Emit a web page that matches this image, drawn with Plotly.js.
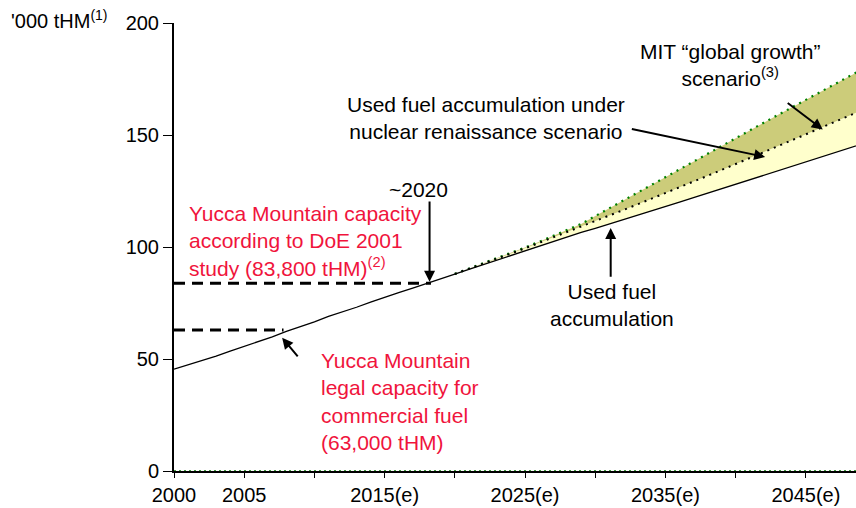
<!DOCTYPE html>
<html>
<head>
<meta charset="utf-8">
<script src="https://cdn.plot.ly/plotly-3.0.1.min.js"></script>
<style>
html,body{margin:0;padding:0;background:#fff;}
#chart{width:856px;height:508px;}
</style>
</head>
<body>
<div id="chart"></div>
<script>
// ---- Data ('000 tHM) ----
const years = [2000,2001,2002,2003,2004,2005,2006,2007,2008,2009,2010,2011,2012,2013,2014,2015,2016,2017,2018,2019,2020,
  2021,2022,2023,2024,2025,2026,2027,2028,2029,2030,2031,2032,2033,2034,2035,2036,2037,2038,2039,2040,
  2041,2042,2043,2044,2045,2046,2047,2048,2049,2050];
const usedFuel = [45.5,47.4,49.3,51.3,53.5,55.6,57.6,59.9,62.3,64.4,66.6,69.0,71.0,73.1,75.4,77.6,79.6,81.6,83.6,85.8,87.9,
  90.0,92.1,94.2,96.3,98.3,100.4,102.5,104.5,106.5,108.3,110.2,112.1,114.0,116.0,118.0,120.0,122.0,124.0,126.0,128.0,
  130.0,132.0,134.0,136.0,138.0,140.0,142.0,144.0,146.0,148.0];
const scenarioYears = [2020,2021,2022,2023,2024,2025,2026,2027,2028,2029,2030,2031,2032,2033,2034,2035,2036,2037,2038,2039,2040,
  2041,2042,2043,2044,2045,2046,2047,2048,2049,2050];
const renaissance = [88.0,90.2,92.5,94.8,97.1,99.4,101.8,104.2,106.6,109.0,111.5,114.0,116.5,119.0,121.5,124.0,126.6,129.2,131.8,134.4,137.0,
  139.6,142.3,145.0,147.6,150.3,153.0,155.7,158.4,161.1,163.8];
const mitGrowth = [88.0,90.3,92.7,95.2,97.5,99.8,102.3,105.0,107.6,110.3,113.8,117.3,120.8,124.3,127.8,131.3,134.8,138.3,141.8,145.3,148.7,
  152.1,155.5,158.9,162.3,165.7,169.1,172.5,175.9,179.3,182.7];
const capacityValues = [63.0, 83.8];          // Yucca Mountain capacities
const capacityReachedYears = [2007.8, 2018.3]; // year the used-fuel line reaches each capacity
const xTickVals = [2000,2005,2010,2015,2020,2025,2030,2035,2040,2045];
const xTickText = ['2000','2005','','2015(e)','','2025(e)','','2035(e)','','2045(e)'];
const yTickVals = [0,50,100,150,200];

const startIdx = years.indexOf(scenarioYears[0]);
const usedFuelFuture = usedFuel.slice(startIdx);

const FONT = 'Liberation Sans, Arial, sans-serif';
const RED = '#F0143C';
const FS = 21;

const traces = [
  // fill bases
  {x: scenarioYears, y: usedFuelFuture, mode:'lines', line:{width:0, color:'rgba(0,0,0,0)'}, hoverinfo:'skip', showlegend:false},
  {x: scenarioYears, y: renaissance, mode:'lines', fill:'tonexty', fillcolor:'#FFFFCC', line:{width:0, color:'rgba(0,0,0,0)'}, hoverinfo:'skip', showlegend:false},
  {x: scenarioYears, y: mitGrowth, mode:'lines', fill:'tonexty', fillcolor:'#CCCC7A', line:{width:0, color:'rgba(0,0,0,0)'}, hoverinfo:'skip', showlegend:false},
  // capacity dashed lines
  {x: [years[0], capacityReachedYears[0]], y: [capacityValues[0], capacityValues[0]], mode:'lines', line:{color:'#000', width:3, dash:'11px,7px'}, showlegend:false},
  {x: [years[0], capacityReachedYears[1]], y: [capacityValues[1], capacityValues[1]], mode:'lines', line:{color:'#000', width:3, dash:'11px,7px'}, showlegend:false},
  // lines
  {x: scenarioYears, y: mitGrowth, mode:'lines', line:{color:'#008000', width:2.2, dash:'2px,5px'}, showlegend:false},
  {x: scenarioYears, y: renaissance, mode:'lines', line:{color:'#000', width:2, dash:'2px,5px'}, showlegend:false},
  {x: years, y: usedFuel, mode:'lines', line:{color:'#000', width:1.3}, showlegend:false}
];

function arrow(x, y, ax, ay){
  return {x:x, y:y, xref:'x', yref:'y', ax:ax, ay:ay, axref:'x', ayref:'y', text:'', showarrow:true,
          arrowhead:2, arrowsize:1.1, arrowwidth:2, arrowcolor:'#000'};
}
function label(x, y, text, opts){
  return Object.assign({x:x, y:y, xref:'paper', yref:'paper', text:text, showarrow:false,
    font:{family:FONT, size:FS, color:'#000'}, xanchor:'center', yanchor:'middle', align:'center'}, opts||{});
}
const L=174, R=0, T=23, B=37, W=856, H=508;
const px = v => (v - L)/(W - L - R);
const py = v => (H - B - v)/(H - T - B);

const annotations = [
  label(px(9), py(19), "'000 tHM<sup>(1)</sup>", {xanchor:'left', font:{family:FONT, size:20, color:'#000'}}),
  label(px(486), py(117.5), 'Used fuel accumulation under<br>nuclear renaissance scenario'),
  label(px(730), py(64.5), 'MIT “global growth”<br>scenario<sup>(3)</sup>'),
  label(px(418), py(190), '~2020'),
  label(px(187), py(240.5), 'Yucca Mountain capacity<br>according to DoE 2001<br>study (83,800 tHM)<sup>(2)</sup>', {xanchor:'left', align:'left', font:{family:FONT, size:FS, color:RED}}),
  label(px(319), py(401.5), 'Yucca Mountain<br>legal capacity for<br>commercial fuel<br>(63,000 tHM)', {xanchor:'left', align:'left', font:{family:FONT, size:FS, color:RED}}),
  label(px(612), py(304.5), 'Used fuel<br>accumulation'),
  arrow(2018.2, 84.5, 2018.2, 121),
  arrow(2007.7, 59.5, 2008.9, 50.5),
  arrow(2031.1, 108.5, 2031.1, 86),
  arrow(2042.1, 140.2, 2032.5, 152.8),
  arrow(2046.2, 152.5, 2043.6, 164.8)
];

const layout = {
  width: W, height: H,
  margin: {l:L, r:R, t:T, b:B, pad:0},
  paper_bgcolor:'#fff', plot_bgcolor:'#fff',
  showlegend:false,
  font:{family:FONT, color:'#000'},
  xaxis:{
    range:[2000, 2048.57], showgrid:false, zeroline:false,
    showline:true, linecolor:'#000', linewidth:1.5,
    tickmode:'array', tickvals:xTickVals, ticktext:xTickText,
    ticks:'outside', ticklen:5, tickcolor:'#000', tickwidth:1,
    tickfont:{family:FONT, size:20, color:'#000'}
  },
  yaxis:{
    range:[0, 200], showgrid:false, zeroline:false,
    showline:true, linecolor:'#000', linewidth:2,
    tickmode:'array', tickvals:yTickVals,
    ticks:'outside', ticklen:9, tickcolor:'#000', tickwidth:1,
    tickfont:{family:FONT, size:20, color:'#000'}
  },
  shapes:[
    {type:'line', xref:'paper', yref:'y', x0:0, x1:1, y0:0, y1:0, line:{color:'#008000', width:1.5, dash:'2px,3px'}}
  ],
  annotations: annotations
};

Plotly.newPlot('chart', traces, layout, {staticPlot:true, displayModeBar:false});
</script>
</body>
</html>
